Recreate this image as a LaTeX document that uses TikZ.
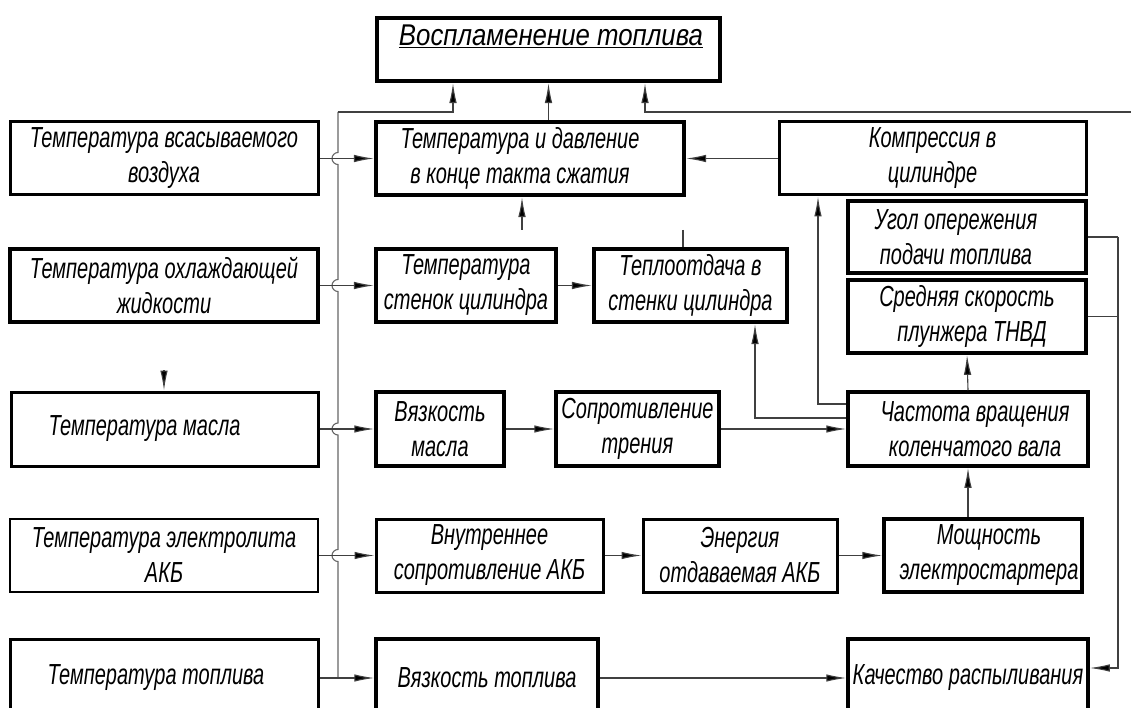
\documentclass[tikz,border=0pt]{standalone}
\usepackage{fontspec}
\newfontfamily\gost{Liberation Sans}[FakeStretch=0.69]
\newfontfamily\gostwide{Liberation Sans}[FakeStretch=0.86]
\usetikzlibrary{arrows.meta,calc}

\begin{document}
\begin{tikzpicture}[x=1pt,y=-1pt,
  blk/.style={draw, line width=3pt, align=center, inner sep=0pt,
    font=\gost\itshape\fontsize{29}{35}\selectfont},
  bold blk/.style={blk, line width=4.2pt},
  conn/.style={line width=1.1pt, draw=black!75},
  arr/.style={conn, -{Latex[length=20pt,width=7.5pt,fill=black]}},
  bus/.style={line width=1.1pt, draw=black!60}
]
\useasboundingbox (0,0) rectangle (1131,708);

% ---- top block ----
\node[bold blk, minimum width=343pt, minimum height=63pt] (ign) at (548.5,49.5) {};
\node[font=\gostwide\itshape\fontsize{30}{30}\selectfont, inner sep=0pt] (igntxt) at (551,36)
  {\underline{Воспламенение топлива}};

% ---- left column: temperatures ----
\node[blk, minimum width=308pt, minimum height=73pt] (tin) at (164,158.5)
  {Температура всасываемого\\воздуха};
\node[bold blk, minimum width=308pt, minimum height=73pt] (tcool) at (164,285.5)
  {Температура охлаждающей\\жидкости};
\node[blk, minimum width=307pt, minimum height=74pt] (toil) at (164.5,429)
  {Температура масла\hspace*{40pt}};
\node[blk, line width=2.6pt, minimum width=308pt, minimum height=73pt] (telec) at (164,555.5)
  {Температура электролита\\АКБ};
\node[blk, minimum width=308pt, minimum height=78pt] (tfuel) at (164,678)
  {Температура топлива\hspace*{16pt}};

% ---- second column ----
\node[bold blk, minimum width=308pt, minimum height=73pt] (tp) at (530,158.5)
  {Температура и давление\hspace*{20pt}\\в конце такта сжатия\hspace*{20pt}};
\node[bold blk, minimum width=180pt, minimum height=73pt] (ts) at (466,285.5)
  {Температура\\стенок цилиндра};
\node[bold blk, minimum width=193pt, minimum height=73pt] (heat) at (690.5,285.5)
  {Теплоотдача в\\стенки цилиндра};
\node[blk, line width=3.5pt, minimum width=128pt, minimum height=74pt] (oilvis) at (440,429)
  {Вязкость\\масла};
\node[blk, line width=3.5pt, minimum width=163pt, minimum height=74pt] (fric) at (637.5,429)
  {Сопротивление\\трения};
\node[blk, minimum width=227pt, minimum height=73pt] (intres) at (489.5,555.5)
  {Внутреннее\\сопротивление АКБ};
\node[blk, minimum width=194pt, minimum height=73pt] (energy) at (740,555.5)
  {Энергия\\отдаваемая АКБ};
\node[blk, line width=3.5pt, minimum width=222pt, minimum height=78pt] (fuelvis) at (487,678)
  {Вязкость топлива};

% ---- right column ----
\node[blk, minimum width=307pt, minimum height=73pt] (comp) at (932.5,158.5)
  {Компрессия в\\цилиндре};
\node[bold blk, line width=3.8pt, minimum width=238pt, minimum height=72pt] (angle) at (967,237)
  {Угол опережения\hspace*{22pt}\\подачи топлива\hspace*{22pt}};
\node[bold blk, line width=3.8pt, minimum width=238pt, minimum height=73pt] (plunger) at (967,316.5)
  {Средняя скорость\\\hspace*{10pt}плунжера ТНВД};
\node[blk, line width=3.5pt, minimum width=240pt, minimum height=74pt] (rpm) at (968,429)
  {\hspace*{14pt}Частота вращения\\\hspace*{14pt}коленчатого вала};
\node[blk, line width=3.5pt, minimum width=198pt, minimum height=73pt] (starter) at (983,555.5)
  {\hspace*{12pt}Мощность\\\hspace*{12pt}электростартера};
\node[blk, line width=3.5pt, minimum width=240pt, minimum height=78pt] (quality) at (968,678)
  {Качество распыливания};

% ---- common bus from the temperatures to the ignition ----
\coordinate (busTop) at (338,112);
\coordinate (farR) at (1131,112);
\draw[bus] (busTop) -- (338,152.5) arc[start angle=-90,end angle=-270,radius=6]
  -- (338,279.5) arc[start angle=-90,end angle=-270,radius=6]
  -- (338,423) arc[start angle=-90,end angle=-270,radius=6]
  -- (338,549.5) arc[start angle=-90,end angle=-270,radius=6]
  -- (tfuel.east -| busTop);
\draw[arr] (busTop) -| ([xshift=-95.5pt]ign.south);
\draw[arr] (ign.south |- tp.north) -- (ign.south);
\draw[arr] (farR) -| ([xshift=96.5pt]ign.south);

% ---- temperatures to their effects ----
\draw[arr] (tin.east) -- (tp.west);
\draw[arr] (tcool.east) -- (ts.west);
\draw[arr] (toil.east) -- (oilvis.west);
\draw[arr] (telec.east) -- (intres.west);
\draw[arr] (tfuel.east) -- (fuelvis.west);

% ---- chains ----
\draw[arr] (comp.west) -- (tp.east);
\draw[arr] (ts.east) -- (heat.west);
\draw[arr] (oilvis.east) -- (fric.west);
\draw[arr] (fric.east) -- (rpm.west);
\draw[arr] (intres.east) -- (energy.west);
\draw[arr] (energy.east) -- (starter.west);
\draw[arr] (fuelvis.east) -- (quality.west);
\draw[arr] (starter.north -| rpm.south) -- (rpm.south);
\draw[arr] (rpm.north) -- (plunger.south);
\draw[arr] ([yshift=25pt]rpm.west) -| ([xshift=-114.5pt]comp.south);
\draw[arr] ([yshift=11pt]rpm.west) -| ([xshift=64.5pt]heat.south);

% ---- fuel-injection parameters to atomisation quality ----
\coordinate (rail) at (1118,668);
\draw[conn] (angle.east) -- (angle.east -| rail);
\draw[conn] (plunger.east) -- (plunger.east -| rail);
\draw[arr] (angle.east -| rail) -- (rail) -- ([yshift=10pt]quality.east);

% ---- short open leads ----
\coordinate (tpIn) at (522,230);
\coordinate (heatOut) at (683,230);
\coordinate (oilIn) at (164,370);
\draw[arr] (tpIn) -- (tpIn |- tp.south);
\draw[conn] (heatOut) -- (heatOut |- heat.north);
\draw[arr] (oilIn) -- (oilIn |- toil.north);
\end{tikzpicture}
\end{document}
